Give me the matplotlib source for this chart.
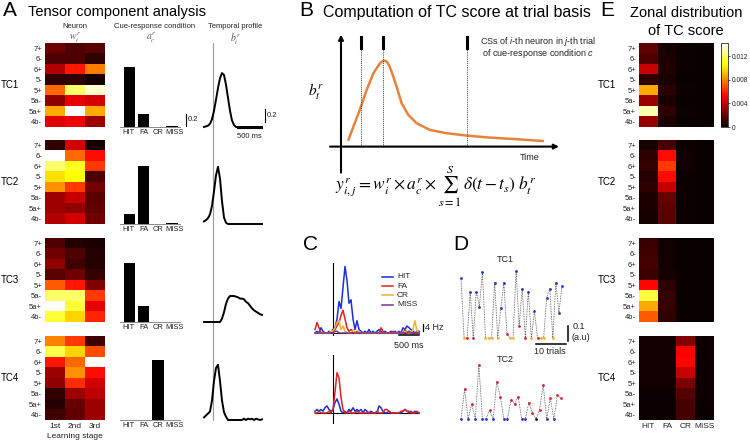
import numpy as np
import matplotlib
matplotlib.use('Agg')
import matplotlib.pyplot as plt

plt.rcParams['font.family'] = ['Liberation Sans', 'DejaVu Sans']
plt.rcParams['mathtext.fontset'] = 'custom'
plt.rcParams['mathtext.rm'] = 'Liberation Sans'
plt.rcParams['mathtext.it'] = 'Liberation Sans:italic'

# ---------------- data ----------------
zones = ['7+', '6-', '6+', '5-', '5+', '5a-', '5a+', '4b-']
stages = ['1st', '2nd', '3rd']
conds = ['HIT', 'FA', 'CR', 'MISS']
tc_names = ['TC1', 'TC2', 'TC3', 'TC4']

neuron_w_tc1 = [[0.15, 0.10, 0.12], [0.10, 0.10, 0.06], [0.25, 0.40, 0.55], [0.06, 0.06, 0.02],
                [0.52, 0.85, 0.95], [0.20, 0.33, 0.30], [0.62, 1.00, 0.62], [0.32, 0.34, 0.22]]
neuron_w_tc2 = [[0.06, 0.30, 0.02], [1.00, 0.52, 0.38], [0.85, 0.78, 0.45], [0.70, 0.75, 0.10],
                [0.58, 0.45, 0.16], [0.22, 0.28, 0.12], [0.22, 0.20, 0.13], [0.25, 0.30, 0.15]]
neuron_w_tc3 = [[0.10, 0.04, 0.03], [0.15, 0.10, 0.04], [0.20, 0.08, 0.04], [0.12, 0.15, 0.07],
                [0.50, 0.40, 0.18], [0.85, 0.85, 0.45], [1.00, 0.80, 0.33], [0.80, 0.68, 0.42]]
neuron_w_tc4 = [[0.56, 0.45, 0.08], [0.82, 0.68, 0.48], [0.40, 0.52, 1.00], [0.22, 0.58, 0.38],
                [0.20, 0.43, 0.30], [0.06, 0.22, 0.27], [0.04, 0.14, 0.22], [0.08, 0.13, 0.22]]

cond_a_tc1 = [1.00, 0.22, 0.00, 0.02]
cond_a_tc2 = [0.17, 0.97, 0.00, 0.02]
cond_a_tc3 = [0.98, 0.27, 0.00, 0.00]
cond_a_tc4 = [0.00, 0.00, 1.00, 0.00]

t_prof = [-0.18, -0.14, -0.10, -0.06, -0.02, 0.02, 0.06, 0.10, 0.14, 0.18,
          0.22, 0.26, 0.30, 0.34, 0.38, 0.42, 0.46, 0.50, 0.54, 0.58,
          0.62, 0.66, 0.70, 0.74, 0.78, 0.82, 0.86, 0.90, 0.94, 0.98]
prof_tc1 = [0.00, 0.01, 0.02, 0.05, 0.12, 0.25, 0.42, 0.60, 0.75, 0.83,
            0.80, 0.65, 0.45, 0.25, 0.10, 0.03, 0.00, 0.00, 0.00, 0.00,
            0.00, 0.00, 0.00, 0.00, 0.00, 0.00, 0.00, 0.00, 0.00, 0.00]
prof_tc2 = [0.04, 0.06, 0.09, 0.15, 0.28, 0.50, 0.75, 0.88, 0.70, 0.35,
            0.10, 0.02, 0.00, 0.00, 0.00, 0.00, 0.00, 0.00, 0.00, 0.00,
            0.00, 0.00, 0.00, 0.00, 0.00, 0.00, 0.00, 0.00, 0.00, 0.00]
prof_tc3 = [0.00, 0.00, 0.00, 0.00, 0.00, 0.00, 0.00, 0.00, 0.00, 0.05,
            0.15, 0.28, 0.36, 0.40, 0.40, 0.40, 0.39, 0.38, 0.36, 0.36,
            0.35, 0.31, 0.29, 0.25, 0.21, 0.18, 0.16, 0.14, 0.12, 0.11]
prof_tc4 = [0.04, 0.07, 0.10, 0.13, 0.30, 0.60, 0.80, 0.85, 0.60, 0.30,
            0.12, 0.05, 0.00, 0.00, 0.00, 0.00, 0.00, 0.00, 0.00, 0.00,
            0.02, 0.00, 0.02, 0.01, 0.02, 0.00, 0.02, 0.01, 0.00, 0.01]

# panel B schematic curve
b_t = [0.37, 0.62, 1.00, 1.28, 1.62, 1.85, 1.95, 2.08, 2.17, 2.25, 2.32, 2.42, 2.53, 2.78,
       3.03, 3.37, 3.78, 4.45, 5.28, 6.28, 7.45, 8.78, 10.1]
b_val = [0.33, 1.00, 2.00, 2.83, 3.67, 4.02, 4.17, 4.27, 4.30, 4.28, 4.20, 4.02, 3.75, 3.00,
         2.17, 1.58, 1.17, 0.83, 0.67, 0.55, 0.45, 0.37, 0.28]
spike_times = [1.0, 2.12, 6.28]

# panel C firing rates (Hz), 50 ms bins
t_c = np.round(np.arange(53) * 0.05 - 0.45, 2)
hit_top = [0, 1, 0, 3, 1, 0, 0, 1, 0,
           2, 3, 8, 18, 14, 26, 38, 30, 17, 19, 8, 2, 7, 2, 1,
           0, 1, 0, 2, 0, 1, 0, 1, 2, 1, 0, 1, 0, 0, 1, 0, 1, 0, 1, 0,
           3, 2, 4, 3, 2, 1, 0, 1, 1]
fa_top = [2, 6, 3, 0, 0, 0, 0, 0, 0,
          1, 2, 4, 6, 10, 13, 8, 3, 1, 2, 0, 0, 1, 0, 0,
          0, 0, 0, 0, 0, 0, 0, 0, 0, 3, 1, 0, 0, 0, 0, 1, 0, 0, 0, 0,
          0, 2, 0, 1, 0, 0, 0, 0, 0]
cr_top = [0, 0, 0, 0, 0, 0, 0, 0, 1,
          1, 3, 6, 7, 2, 4, 1, 0, 0, 0, 2, 0, 0, 1, 0,
          0, 0, 0, 0, 0, 0, 0, 0, 0, 0, 0, 0, 0, 0, 0, 0, 0, 0, 0, 0,
          0, 1, 0, 0, 0, 2, 7, 1, 0]
miss_top = [0, 0, 0, 0, 0, 0, 0, 0, 0,
            0, 1, 1, 0, 0, 0, 0, 0, 0, 0, 0, 0, 0, 0, 0,
            0, 0, 0, 0, 0, 0, 0, 0, 0, 0, 0, 0, 0, 0, 0, 0, 0, 0, 0, 0,
            0, 0, 0, 1, 0, 0, 0, 0, 0]
hit_bot = [1, 2, 1, 2, 1, 3, 4, 2, 1,
           2, 6, 8, 5, 1, 0, 1, 0, 2, 1, 3, 1, 2, 1, 2,
           0, 2, 1, 0, 1, 0, 0, 0, 4, 3, 1, 0, 0, 1, 0, 0, 0, 0, 0, 0,
           1, 2, 1, 1, 0, 0, 1, 0, 0]
fa_bot = [0, 0, 1, 0, 0, 0, 0, 1, 0,
          2, 12, 23, 20, 9, 2, 0, 0, 1, 0, 0, 0, 1, 0, 0,
          0, 0, 0, 0, 0, 0, 0, 1, 0, 0, 0, 2, 2, 1, 0, 0, 0, 0, 0, 1,
          1, 2, 1, 0, 1, 0, 0, 1, 0]

# panel D trial-by-trial TC scores
d1_vals = [0.40, 0, 0, 0.31, 0, 0.31, 0.21, 0.44, 0, 0,
           0, 0.37, 0, 0.20, 0.37, 0.03, 0, 0, 0.45, 0.08,
           0.33, 0, 0.31, 0, 0.18, 0, 0, 0, 0.27, 0.33,
           0, 0.37, 0.17, 0.35]
d1_type = ['H', 'C', 'F', 'H', 'F', 'H', 'H', 'H', 'C', 'C',
           'C', 'H', 'C', 'H', 'H', 'F', 'C', 'C', 'H', 'F',
           'H', 'F', 'H', 'C', 'H', 'F', 'C', 'C', 'H', 'H',
           'C', 'H', 'H', 'H']
d2_vals = [0, 0.20, 0, 0.10, 0, 0.36, 0, 0, 0.06, 0,
           0.25, 0.15, 0, 0, 0.13, 0.10, 0.15, 0, 0, 0.11,
           0.04, 0, 0.06, 0.23, 0, 0.14, 0, 0.16, 0.14]
d2_type = ['H', 'F', 'H', 'F', 'H', 'F', 'H', 'H', 'F', 'H',
           'F', 'F', 'H', 'H', 'F', 'F', 'F', 'H', 'H', 'F',
           'F', 'M', 'F', 'F', 'H', 'F', 'H', 'F', 'F']

# panel E zonal distribution
zonal_tc1 = [[0.0018, 0.0003, 0.0001, 0.0], [0.0015, 0.0004, 0.0001, 0.0], [0.0040, 0.0005, 0.0001, 0.0],
             [0.0008, 0.0004, 0.0, 0.0], [0.0088, 0.0007, 0.0001, 0.0], [0.0031, 0.0004, 0.0, 0.0],
             [0.0130, 0.0008, 0.0001, 0.0], [0.0030, 0.0004, 0.0, 0.0]]
zonal_tc2 = [[0.0003, 0.0013, 0.0001, 0.0], [0.0008, 0.0054, 0.0002, 0.0], [0.0009, 0.0064, 0.0002, 0.0],
             [0.0006, 0.0054, 0.0001, 0.0], [0.0008, 0.0039, 0.0001, 0.0], [0.0004, 0.0020, 0.0001, 0.0],
             [0.0004, 0.0018, 0.0001, 0.0], [0.0003, 0.0017, 0.0001, 0.0]]
zonal_tc3 = [[0.0010, 0.0002, 0.0, 0.0], [0.0012, 0.0002, 0.0, 0.0], [0.0013, 0.0002, 0.0, 0.0],
             [0.0011, 0.0003, 0.0, 0.0], [0.0053, 0.0007, 0.0, 0.0], [0.0115, 0.0009, 0.0, 0.0],
             [0.0088, 0.0009, 0.0, 0.0], [0.0071, 0.0008, 0.0, 0.0]]
zonal_tc4 = [[0.0002, 0.0002, 0.0026, 0.0001], [0.0002, 0.0002, 0.0052, 0.0001], [0.0002, 0.0002, 0.0053, 0.0001],
             [0.0002, 0.0002, 0.0040, 0.0001], [0.0002, 0.0002, 0.0024, 0.0001], [0.0001, 0.0001, 0.0016, 0.0001],
             [0.0001, 0.0001, 0.0013, 0.0001], [0.0001, 0.0001, 0.0013, 0.0]]
cbar_ticks = [0, 0.004, 0.008, 0.012]
cbar_labels = ['0', '0.004', '0.008', '0.012']

neuron_w = [neuron_w_tc1, neuron_w_tc2, neuron_w_tc3, neuron_w_tc4]
cond_a = [cond_a_tc1, cond_a_tc2, cond_a_tc3, cond_a_tc4]
profs = [prof_tc1, prof_tc2, prof_tc3, prof_tc4]
zonal = [zonal_tc1, zonal_tc2, zonal_tc3, zonal_tc4]

# ---------------- layout helpers ----------------
W, H = 750, 442
fig = plt.figure(figsize=(7.5, 4.42), dpi=100)


def add_ax(x0, y0, x1, y1):
    return fig.add_axes([x0 / W, 1 - y1 / H, (x1 - x0) / W, (y1 - y0) / H])


def ftext(x, y, s, **kw):
    kw.setdefault('ha', 'left')
    kw.setdefault('va', 'center')
    return fig.text(x / W, 1 - y / H, s, **kw)


TXT = '#222222'
tc_tops = [43, 140, 238, 336]
hm_h = 84

# ---------------- Panel A ----------------
ftext(3, 11, 'A', fontsize=15)
ftext(28, 12, 'Tensor component analysis', fontsize=10.5)
ftext(75, 27, 'Neuron', fontsize=5.5, ha='center', color=TXT)
ftext(75, 38, r'$w_i^r$', fontsize=7, ha='center', color='#555', math_fontfamily='stix')
ftext(155, 27, 'Cue-response condition', fontsize=5.5, ha='center', color=TXT)
ftext(151, 38, r'$a_c^r$', fontsize=7, ha='center', color='#555', math_fontfamily='stix')
ftext(235, 26, 'Temporal profile', fontsize=5.5, ha='center', color=TXT)
ftext(235, 38, r'$b_t^r$', fontsize=7, ha='center', color='#555', math_fontfamily='stix')

# grey cue line behind temporal profiles
axbg = add_ax(200, 43, 266, 421)
axbg.set_xlim(-0.26, 1.06)
axbg.axvline(0, color='#999999', lw=0.8)
axbg.axis('off')

for k in range(4):
    top = tc_tops[k]
    bot = top + hm_h
    # heatmap
    ax = add_ax(45, top, 105, bot)
    ax.imshow(np.array(neuron_w[k]), cmap='hot', vmin=0, vmax=1, aspect='auto',
              interpolation='nearest')
    ax.set_yticks(range(8))
    ax.set_yticklabels(zones, fontsize=5.5, color=TXT)
    ax.tick_params(length=0, pad=2)
    if k == 3:
        ax.set_xticks(range(3))
        ax.set_xticklabels(stages, fontsize=6, color=TXT)
    else:
        ax.set_xticks([])
    for s in ax.spines.values():
        s.set_visible(False)
    ftext(1, (top + bot) / 2, tc_names[k], fontsize=7)

    # bars
    axb = add_ax(120, bot - 66, 180, bot)
    axb.bar(range(4), cond_a[k], width=0.8, color='black')
    axb.set_xlim(-0.67, 3.56)
    axb.set_ylim(0, 1.1)
    for s in ['top', 'right', 'left']:
        axb.spines[s].set_visible(False)
    axb.spines['bottom'].set_linewidth(0.6)
    axb.spines['bottom'].set_color('#777')
    axb.set_yticks([])
    axb.set_xticks([-0.05, 1.0, 2.0, 3.2])
    axb.set_xticklabels(conds, fontsize=5.4, color=TXT)
    axb.tick_params(axis='x', length=0, pad=1.5)
    if k == 0:
        axb.plot([3.95, 3.95], [0.02, 0.22], color='k', lw=0.8, clip_on=False)
        axb.text(4.1, 0.12, '0.2', fontsize=5.5, va='center', color=TXT)

    # temporal profile
    axt = add_ax(200, bot - 62, 266, bot + 3)
    axt.plot(t_prof, profs[k], color='black', lw=1.4)
    axt.set_xlim(-0.26, 1.06)
    axt.set_ylim(-3 / 65, 62 / 65)
    axt.axis('off')
    if k == 0:
        axt.plot([1.03, 1.03], [0.077, 0.277], color='k', lw=0.8, clip_on=False)
        axt.text(1.07, 0.177, '0.2', fontsize=5.5, va='center', color=TXT)
        axt.plot([0.48, 0.98], [-0.012, -0.012], color='k', lw=0.8, clip_on=False)
        axt.text(0.73, -0.14, '500 ms', fontsize=5.5, ha='center', va='center', color=TXT)

ftext(75, 437, 'Learning stage', fontsize=6, ha='center', color=TXT)

# ---------------- Panel B ----------------
ftext(299, 11, 'B', fontsize=15)
ftext(323, 12, 'Computation of TC score at trial basis', fontsize=11.5)
axB = add_ax(320, 30, 600, 200)
axB.set_xlim(-1.05, 12.95)
axB.set_ylim(-2.67, 5.83)
axB.axis('off')
axB.annotate('', xy=(0, 5.6), xytext=(0, -1.3),
             arrowprops=dict(arrowstyle='-|>', lw=1.5, color='k', mutation_scale=7,
                             shrinkA=0, shrinkB=0))
axB.annotate('', xy=(10.9, 0), xytext=(-0.55, 0),
             arrowprops=dict(arrowstyle='-|>', lw=1.5, color='k', mutation_scale=7,
                             shrinkA=0, shrinkB=0))
axB.plot(b_t, b_val, color='#E8823A', lw=1.8, solid_capstyle='round')
for st in spike_times:
    axB.plot([st, st], [0, 4.9], color='#333', lw=0.7, ls=(0, (1, 1.2)))
    axB.plot([st, st], [4.92, 5.5], color='k', lw=2.2)
axB.text(9.45, -0.54, 'Time', fontsize=6.5, ha='center', va='center', color=TXT)
axB.text(9.85, 5.28, r'CSs of $\mathit{i}$-th neuron in $\mathit{j}$-th trial', fontsize=6.5,
         ha='center', va='center', color=TXT)
axB.text(9.85, 4.68, r'of cue-response condition $\mathit{c}$', fontsize=6.5,
         ha='center', va='center', color=TXT)
ftext(316, 92, r'$b_t^r$', fontsize=11, ha='center', math_fontfamily='stix')
ftext(436, 186, r'$y_{i,j}^{r} = w_i^r\times a_c^r\times \sum_{s=1}^{S}\,\delta(t - t_s)\;b_t^r$',
      fontsize=12.5, ha='center', math_fontfamily='stix')

# ---------------- Panel C ----------------
ftext(303, 245, 'C', fontsize=15)
c_cols = {'HIT': '#1a2fd6', 'FA': '#e02222', 'CR': '#f3b02a', 'MISS': '#7b3294'}
axC1 = add_ax(312, 260, 420, 336)
axC1.set_xlim(-0.525, 2.175)
axC1.set_ylim(-1.71, 41.7)
axC1.axis('off')
axC1.plot([0, 0], [-1.7, 40], color='k', lw=0.8)
axC1.plot(t_c, hit_top, color=c_cols['HIT'], lw=1.1)
axC1.plot(t_c, fa_top, color=c_cols['FA'], lw=1.1)
axC1.plot(t_c, cr_top, color=c_cols['CR'], lw=1.1)
axC1.plot(t_c, miss_top, color=c_cols['MISS'], lw=1.1)
axC1.plot([t_c[0], t_c[-1]], [0, 0], color='k', lw=0.8, zorder=1.5)
leg_y = [32, 26.8, 21.7, 16]
for name, yy in zip(conds, leg_y):
    axC1.plot([1.225, 1.5], [yy, yy], color=c_cols[name], lw=1.1)
    axC1.text(1.6, yy, name, fontsize=6, va='center', color=TXT)
axC1.plot([2.25, 2.25], [1.1, 5.1], color='k', lw=0.9, clip_on=False)
axC1.text(2.29, 3.1, '4 Hz', fontsize=6.5, va='center', color=TXT, clip_on=False)
axC1.plot([1.65, 2.15], [-1.1, -1.1], color='k', lw=1.1, clip_on=False)
axC1.text(1.9, -6.9, '500 ms', fontsize=6.5, ha='center', va='center', color=TXT)

axC2 = add_ax(312, 352, 420, 424)
axC2.set_xlim(-0.525, 2.175)
axC2.set_ylim(-6.3, 34.8)
axC2.axis('off')
axC2.plot([0, 0], [-5.7, 33.1], color='k', lw=0.8)
axC2.plot([t_c[0], t_c[-1]], [0, 0], color='k', lw=0.8)
axC2.plot(t_c, hit_bot, color=c_cols['HIT'], lw=1.1)
axC2.plot(t_c, fa_bot, color=c_cols['FA'], lw=1.1)

# ---------------- Panel D ----------------
ftext(453, 245, 'D', fontsize=15)
d_cols = {'H': '#2233cc', 'F': '#dd2222', 'C': '#f2b23a', 'M': '#111111'}


def draw_scores(ax, vals, types):
    xs = np.arange(len(vals))
    ax.plot(xs, vals, color='#555555', lw=0.6, ls=(0, (1, 1)), clip_on=False)
    for x, v, t in zip(xs, vals, types):
        ax.plot(x, v, 'o', ms=2.0, mec='none', color=d_cols[t], clip_on=False)
    ax.axis('off')


axD1 = add_ax(461, 270, 562, 338)
axD1.set_xlim(0, 33)
axD1.set_ylim(0, 68 / 150)
draw_scores(axD1, d1_vals, d1_type)
ftext(505, 259, 'TC1', fontsize=6.5, ha='center', color=TXT)
axD1.plot([24.5, 34.3], [-0.037, -0.037], color='k', lw=1.1, clip_on=False)
ftext(550, 351, '10 trials', fontsize=6.5, ha='center', color=TXT)
axD1.plot([35.0, 35.0], [-0.02, 0.08], color='k', lw=1.1, clip_on=False)
ftext(573, 326.5, '0.1', fontsize=6.5, color=TXT)
ftext(571, 337, '(a.u)', fontsize=6.5, color=TXT)

axD2 = add_ax(461, 365, 561, 419)
axD2.set_xlim(0, 28)
axD2.set_ylim(0, 54 / 150)
draw_scores(axD2, d2_vals, d2_type)
ftext(505, 359, 'TC2', fontsize=6.5, ha='center', color=TXT)

# ---------------- Panel E ----------------
ftext(600, 11, 'E', fontsize=15)
ftext(686, 13, 'Zonal distribution', fontsize=10.5, ha='center')
ftext(686, 31, 'of TC score', fontsize=10.5, ha='center')
E_VMAX = 0.0142
im = None
for k in range(4):
    top = tc_tops[k]
    bot = top + hm_h
    ax = add_ax(639, top, 714, bot)
    im = ax.imshow(np.array(zonal[k]), cmap='hot', vmin=0, vmax=E_VMAX, aspect='auto',
                   interpolation='nearest')
    ax.set_yticks(range(8))
    ax.set_yticklabels(zones, fontsize=5.5, color=TXT)
    ax.tick_params(length=0, pad=2)
    if k == 3:
        ax.set_xticks(range(4))
        ax.set_xticklabels(conds, fontsize=6, color=TXT)
    else:
        ax.set_xticks([])
    for s in ax.spines.values():
        s.set_visible(False)
    ftext(598, (top + bot) / 2, tc_names[k], fontsize=7)

cax = add_ax(721, 43, 728, 127)
cb = fig.colorbar(im, cax=cax)
cb.set_ticks(cbar_ticks)
cb.set_ticklabels(cbar_labels)
cb.ax.tick_params(labelsize=4.8, length=1.2, width=0.5, pad=1.5, colors=TXT)
cb.outline.set_linewidth(0.5)

fig.savefig('out.png', dpi=100)
